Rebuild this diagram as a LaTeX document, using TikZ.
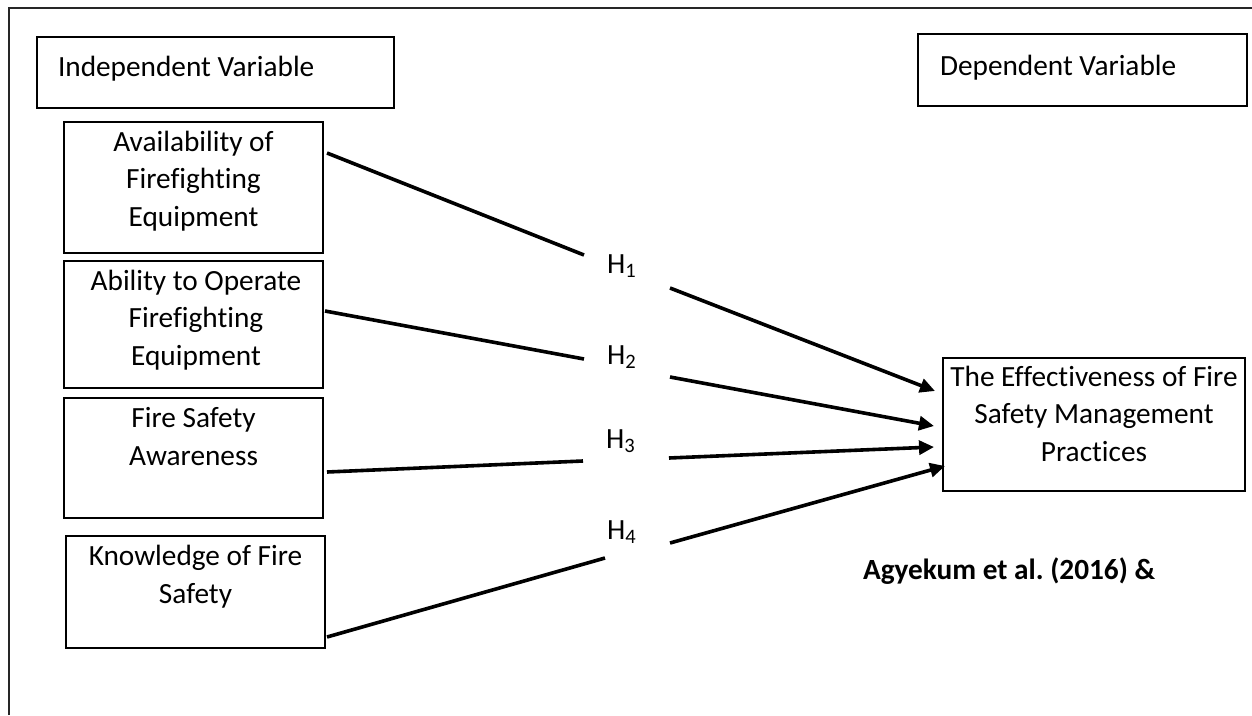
\documentclass[tikz,border=0pt]{standalone}
\usepackage{fontspec}
\setmainfont{Carlito}[Ligatures=NoCommon]
\usetikzlibrary{arrows.meta}

\newcommand{\bodysize}{\fontsize{29.3}{37.5}\selectfont}

\begin{document}
\begin{tikzpicture}[x=1pt,y=-1pt,
  every node/.style={inner sep=0pt, outer sep=0pt},
  box/.style={draw=black, line width=2pt, rectangle},
  label text/.style={font=\bodysize, anchor=base west},
  txt/.style={font=\bodysize, align=center, anchor=base},
  hyp/.style={font=\bodysize, anchor=base west},
  link/.style={line width=3.6pt, line cap=butt},
  arrowlink/.style={link, -{Triangle[length=15pt,width=14pt]}}
]
\useasboundingbox (0,0) rectangle (1252,715);

% frame (only top and left edges are on the page)
\draw[line width=2pt, black!85] (9,715) -- (9,8) -- (1252,8);

% header boxes
\node[box, minimum width=357pt, minimum height=71pt] (indep) at (215.5,72.5) {};
\node[label text] (indeptext) at (58,76) {Independent Variable};
\node[box, minimum width=329pt, minimum height=72pt] (dep) at (1082.5,70) {};
\node[label text] (deptext) at (940,75) {Dependent Variable};

% independent variables (text nodes are placed by the baseline of their last line)
\node[box, minimum width=259pt, minimum height=131pt] (A) at (193.5,187.5) {};
\node[txt] (Atext) at (193.5,226) {Availability of\\Firefighting\\Equipment};

\node[box, minimum width=259pt, minimum height=127pt] (B) at (193.5,324.5) {};
\node[txt] (Btext) at (196,365) {Ability to Operate\\Firefighting\\Equipment};

\node[box, minimum width=259pt, minimum height=120pt] (C) at (193.5,458) {};
\node[txt] (Ctext) at (193.5,465) {Fire Safety\\Awareness};

\node[box, minimum width=259pt, minimum height=112pt] (D) at (195.5,592) {};
\node[txt] (Dtext) at (195.5,603) {Knowledge of Fire\\Safety};

% dependent variable
\node[box, minimum width=302pt, minimum height=133pt] (T) at (1094,424.5) {};
\node[txt] (Ttext) at (1094,461) {The Effectiveness of Fire\\Safety Management\\Practices};

% source
\node[font=\bodysize\bfseries, anchor=base west] (src) at (863,579) {Agyekum et al.\ (2016) \&};

% hypothesis labels
\node[hyp] (H1) at (607,273) {H\textsubscript{1}};
\node[hyp] (H2) at (607,364) {H\textsubscript{2}};
\node[hyp] (H3) at (606,448) {H\textsubscript{3}};
\node[hyp] (H4) at (607,539) {H\textsubscript{4}};

% connector end points
\coordinate (A-out) at (327,153);
\coordinate (H1-in) at (584,255);
\coordinate (H1-out) at (670,288);
\coordinate (T-in1) at (935,391);

\coordinate (B-out) at (325,311);
\coordinate (H2-in) at (584,359);
\coordinate (H2-out) at (670,377);
\coordinate (T-in2) at (934,426);

\coordinate (C-out) at (327,472);
\coordinate (H3-in) at (583,461);
\coordinate (H3-out) at (669,458);
\coordinate (T-in3) at (934,447);

\coordinate (D-out) at (327,637);
\coordinate (H4-in) at (605,558);
\coordinate (H4-out) at (670,543);
\coordinate (T-in4) at (945,466);

% hypothesised paths
\draw[link] (A-out) -- (H1-in);
\draw[arrowlink] (H1-out) -- (T-in1);
\draw[link] (B-out) -- (H2-in);
\draw[arrowlink] (H2-out) -- (T-in2);
\draw[link] (C-out) -- (H3-in);
\draw[arrowlink] (H3-out) -- (T-in3);
\draw[link] (D-out) -- (H4-in);
\draw[arrowlink] (H4-out) -- (T-in4);
\end{tikzpicture}
\end{document}
